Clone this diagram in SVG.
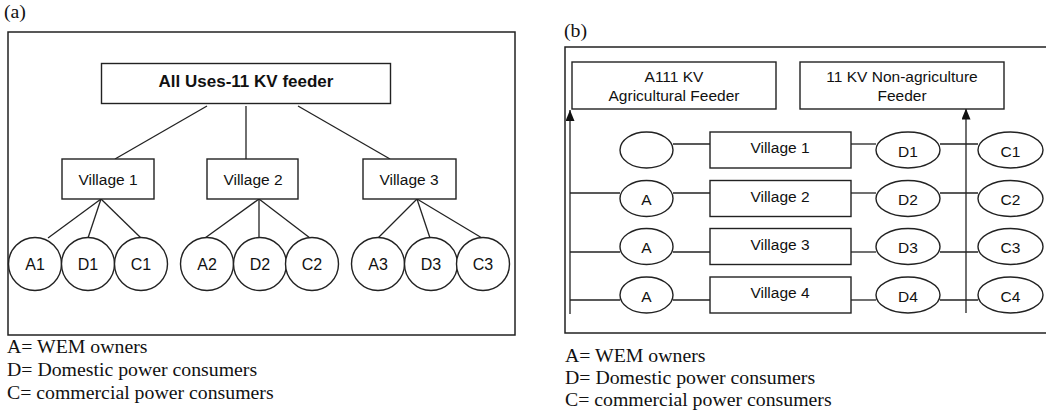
<svg xmlns="http://www.w3.org/2000/svg" width="1046" height="418" viewBox="0 0 1046 418">
<defs>
<style>
.bg{fill:#fff}
.frame{fill:none;stroke:#222;stroke-width:1.5}
.box{fill:#fff;stroke:#222;stroke-width:1.4}
.ln{fill:none;stroke:#222;stroke-width:1.3}
.t{font-family:"Liberation Sans",Arial,sans-serif;font-size:15.5px;fill:#111;text-anchor:middle}
.tc{font-family:"Liberation Sans",Arial,sans-serif;font-size:16px;fill:#111;text-anchor:middle}
.tb{font-family:"Liberation Sans",Arial,sans-serif;font-size:17px;font-weight:bold;fill:#111;text-anchor:middle}
.leg{font-family:"Liberation Serif","Times New Roman",serif;font-size:19.8px;fill:#111}
</style>
<marker id="arr" markerWidth="11" markerHeight="9" refX="11" refY="4.5" orient="auto" markerUnits="userSpaceOnUse" viewBox="0 0 11 9">
<path d="M0,0 L11,4.5 L0,9 Z" fill="#111"/>
</marker>
</defs>
<rect class="bg" x="0" y="0" width="1046" height="418"/>

<!-- Panel (a) -->
<g id="panel-a">
<text class="leg" x="4" y="18">(a)</text>
<rect class="frame" x="8" y="32" width="507" height="303"/>
<text class="leg" x="7" y="353">A= WEM owners</text>
<text class="leg" x="7" y="376">D= Domestic power consumers</text>
<text class="leg" x="7" y="399">C= commercial power consumers</text>
</g>

<g id="a-connectors">
<line class="ln" x1="207" y1="106" x2="115" y2="159"/>
<line class="ln" x1="246" y1="106" x2="246" y2="159"/>
<line class="ln" x1="298" y1="106" x2="390" y2="159"/>
<line class="ln" x1="101" y1="199" x2="48" y2="238"/>
<line class="ln" x1="101" y1="199" x2="88" y2="238"/>
<line class="ln" x1="101" y1="199" x2="141" y2="238"/>
<line class="ln" x1="259" y1="199" x2="205" y2="238"/>
<line class="ln" x1="259" y1="199" x2="259" y2="238"/>
<line class="ln" x1="259" y1="199" x2="310" y2="238"/>
<line class="ln" x1="417" y1="199" x2="378" y2="238"/>
<line class="ln" x1="417" y1="199" x2="430" y2="238"/>
<line class="ln" x1="417" y1="199" x2="482" y2="238"/>
</g>

<g id="a-feeder">
<rect class="box" x="101.5" y="63.5" width="289" height="40"/>
<text class="tb" x="246" y="87">All Uses-11 KV feeder</text>
</g>
<g id="a-village1"><rect class="box" x="62" y="159" width="92" height="40"/><text class="t" x="108" y="185">Village 1</text></g>
<g id="a-village2"><rect class="box" x="207" y="159" width="91" height="40"/><text class="t" x="253" y="185">Village 2</text></g>
<g id="a-village3"><rect class="box" x="363" y="159" width="93" height="40"/><text class="t" x="409" y="185">Village 3</text></g>

<g id="a-A1"><circle class="box" cx="35" cy="264" r="26.5"/><text class="tc" x="35" y="269.5">A1</text></g>
<g id="a-D1"><circle class="box" cx="88" cy="264" r="26.5"/><text class="tc" x="88" y="269.5">D1</text></g>
<g id="a-C1"><circle class="box" cx="141" cy="264" r="26.5"/><text class="tc" x="141" y="269.5">C1</text></g>
<g id="a-A2"><circle class="box" cx="207" cy="264" r="26.5"/><text class="tc" x="207" y="269.5">A2</text></g>
<g id="a-D2"><circle class="box" cx="260" cy="264" r="26.5"/><text class="tc" x="260" y="269.5">D2</text></g>
<g id="a-C2"><circle class="box" cx="312" cy="264" r="26.5"/><text class="tc" x="312" y="269.5">C2</text></g>
<g id="a-A3"><circle class="box" cx="378" cy="264" r="26.5"/><text class="tc" x="378" y="269.5">A3</text></g>
<g id="a-D3"><circle class="box" cx="431" cy="264" r="26.5"/><text class="tc" x="431" y="269.5">D3</text></g>
<g id="a-C3"><circle class="box" cx="483" cy="264" r="26.5"/><text class="tc" x="483" y="269.5">C3</text></g>

<!-- Panel (b) -->
<g id="panel-b">
<text class="leg" x="564" y="37">(b)</text>
<rect class="frame" x="565" y="47" width="500" height="286"/>
<text class="leg" x="565" y="362">A= WEM owners</text>
<text class="leg" x="565" y="384">D= Domestic power consumers</text>
<text class="leg" x="565" y="406">C= commercial power consumers</text>
</g>

<g id="b-connectors">
<line class="ln" x1="570" y1="314" x2="570" y2="110" marker-end="url(#arr)"/>
<line class="ln" x1="966" y1="313" x2="966" y2="108.5" marker-end="url(#arr)"/>
<line class="ln" x1="673" y1="144" x2="710" y2="144"/>
<line class="ln" x1="851" y1="144" x2="876" y2="144"/>
<line class="ln" x1="940" y1="144" x2="978" y2="144"/>
<line class="ln" x1="570" y1="193" x2="620" y2="193"/>
<line class="ln" x1="673" y1="193" x2="710" y2="193"/>
<line class="ln" x1="851" y1="193" x2="876" y2="193"/>
<line class="ln" x1="940" y1="193" x2="978" y2="193"/>
<line class="ln" x1="570" y1="252" x2="620" y2="252"/>
<line class="ln" x1="673" y1="252" x2="710" y2="252"/>
<line class="ln" x1="851" y1="252" x2="876" y2="252"/>
<line class="ln" x1="940" y1="252" x2="978" y2="252"/>
<line class="ln" x1="570" y1="300" x2="620" y2="300"/>
<line class="ln" x1="673" y1="300" x2="710" y2="300"/>
<line class="ln" x1="851" y1="300" x2="876" y2="300"/>
<line class="ln" x1="940" y1="300" x2="978" y2="300"/>
</g>

<g id="b-agri"><rect class="box" x="572" y="62" width="204" height="47"/><text class="t" x="674" y="82">A111 KV</text><text class="t" x="674" y="101">Agricultural Feeder</text></g>
<g id="b-nonagri"><rect class="box" x="800" y="62" width="204" height="47"/><text class="t" x="902" y="82">11 KV Non-agriculture</text><text class="t" x="902" y="101">Feeder</text></g>

<g id="b-A1"><ellipse class="box" cx="646.5" cy="150" rx="26.5" ry="18"/></g>
<g id="b-village1"><rect class="box" x="710" y="132" width="141" height="36"/><text class="t" x="780" y="153">Village 1</text></g>
<g id="b-D1"><ellipse class="box" cx="908" cy="150" rx="32" ry="18"/><text class="t" x="908" y="156.5">D1</text></g>
<g id="b-C1"><ellipse class="box" cx="1010.5" cy="150" rx="32.5" ry="18"/><text class="t" x="1010.5" y="156.5">C1</text></g>

<g id="b-A2"><ellipse class="box" cx="646.5" cy="198.5" rx="26.5" ry="18"/><text class="t" x="646.5" y="205">A</text></g>
<g id="b-village2"><rect class="box" x="710" y="180.5" width="141" height="36"/><text class="t" x="780" y="201.5">Village 2</text></g>
<g id="b-D2"><ellipse class="box" cx="908" cy="198.5" rx="32" ry="18"/><text class="t" x="908" y="205">D2</text></g>
<g id="b-C2"><ellipse class="box" cx="1010.5" cy="198.5" rx="32.5" ry="18"/><text class="t" x="1010.5" y="205">C2</text></g>

<g id="b-A3"><ellipse class="box" cx="646.5" cy="246.5" rx="26.5" ry="18"/><text class="t" x="646.5" y="253">A</text></g>
<g id="b-village3"><rect class="box" x="710" y="228.5" width="141" height="36"/><text class="t" x="780" y="249.5">Village 3</text></g>
<g id="b-D3"><ellipse class="box" cx="908" cy="246.5" rx="32" ry="18"/><text class="t" x="908" y="253">D3</text></g>
<g id="b-C3"><ellipse class="box" cx="1010.5" cy="246.5" rx="32.5" ry="18"/><text class="t" x="1010.5" y="253">C3</text></g>

<g id="b-A4"><ellipse class="box" cx="646.5" cy="295" rx="26.5" ry="18"/><text class="t" x="646.5" y="301.5">A</text></g>
<g id="b-village4"><rect class="box" x="710" y="277" width="141" height="36"/><text class="t" x="780" y="298">Village 4</text></g>
<g id="b-D4"><ellipse class="box" cx="908" cy="295" rx="32" ry="18"/><text class="t" x="908" y="301.5">D4</text></g>
<g id="b-C4"><ellipse class="box" cx="1010.5" cy="295" rx="32.5" ry="18"/><text class="t" x="1010.5" y="301.5">C4</text></g>
</svg>
